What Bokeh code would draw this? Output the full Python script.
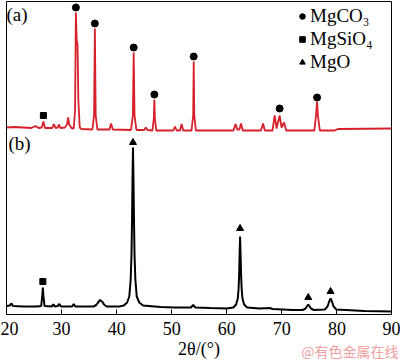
from bokeh.plotting import figure
from bokeh.models import Range1d, FixedTicker, Legend, LegendItem, Label, LinearAxis
from bokeh.embed import file_html
from bokeh.resources import INLINE

# ---- data (2θ in degrees, intensity in arbitrary units) ----
two_theta_a = [20.0, 21.5, 23.0, 24.5, 25.3, 25.8, 26.4, 26.7, 27.0, 28.3, 28.6, 28.9,
               29.3, 29.5, 29.8, 30.6, 31.0, 31.2, 31.4, 31.8, 32.2, 32.45, 32.6, 32.75,
               32.9, 33.05, 33.3, 33.6, 35.6, 35.9, 36.05, 36.2, 36.5, 38.7, 39.0, 39.3,
               42.6, 42.95, 43.1, 43.25, 43.6, 45.0, 45.3, 45.6, 46.5, 46.75, 46.85, 46.95,
               47.2, 50.3, 50.6, 50.9, 51.5, 51.8, 52.1, 53.6, 53.9, 54.0, 54.1, 54.4,
               61.2, 61.6, 61.9, 62.3, 62.6, 62.9, 66.2, 66.6, 66.9, 68.3, 68.7, 69.05,
               69.6, 69.95, 70.4, 70.8, 75.9, 76.2, 76.4, 76.55, 76.9, 79.6, 80.2, 90.0]
intensity_a = [187, 187.5, 187, 186.5, 188.5, 186.5, 187, 193, 186.5, 186.5, 190.5, 186.5,
               187, 190, 186.5, 187, 190, 197, 190, 186.5, 186, 204, 302, 274,
               270, 214, 187, 185.5, 185, 199, 286, 199, 185, 185, 191, 185,
               184.5, 199, 262, 199, 184.5, 184.5, 187, 184.5, 184, 196, 215, 196,
               184, 184, 188, 184, 184, 190.5, 184, 184, 199, 253, 199, 184,
               184, 190.5, 185, 185, 191, 184, 184, 191, 184, 184, 199, 186,
               199, 187, 192, 184, 184, 199, 213, 199, 184, 184, 185.5, 186]

two_theta_b = [20.0, 20.6, 20.9, 21.2, 23.0, 25.5, 26.3, 26.5, 26.6, 26.7, 26.9, 28.2,
               28.5, 28.8, 29.3, 29.6, 29.9, 31.9, 32.2, 32.5, 35.8, 36.3, 36.7, 37.0,
               37.2, 37.45, 37.7, 38.2, 40.5, 41.3, 41.9, 42.3, 42.55, 42.7, 42.8, 42.88,
               42.97, 43.06, 43.15, 43.25, 43.4, 43.65, 44.1, 44.8, 48.0, 50.5, 53.5, 53.9,
               54.3, 57.0, 60.0, 61.2, 61.7, 62.0, 62.15, 62.25, 62.33, 62.42, 62.51, 62.6,
               62.7, 62.85, 63.15, 63.7, 66.0, 67.8, 68.3, 72.0, 73.8, 74.3, 74.6, 74.8,
               75.0, 75.3, 75.8, 77.8, 78.3, 78.6, 78.85, 79.1, 79.4, 79.9, 85.0, 90.0]
intensity_b = [8.5, 9, 11, 8.5, 8, 8, 8.5, 19, 27, 19, 8.5, 8,
               10, 8, 8.5, 10.5, 8, 8, 10.5, 8, 8, 9.5, 12.5, 14.5,
               13.5, 12.5, 10, 8, 8, 9, 12, 18, 35, 60, 95, 135,
               167, 135, 95, 60, 35, 18, 12, 9, 7.5, 7, 7, 9.5,
               7, 6.5, 6, 7, 10, 16, 26, 40, 60, 78, 60, 40,
               26, 16, 10, 7, 6, 6.5, 5.5, 4.5, 4.5, 6, 8.5, 10,
               8.5, 6, 4.5, 5, 8, 13, 16, 13, 8, 5, 3.5, 3]

mgco3_x = [32.6, 36.05, 43.1, 46.85, 54.0, 69.6, 76.4]
mgco3_y = [307, 291, 267, 220, 258, 206, 217]
mgsio4_x = [26.7, 26.6]
mgsio4_y = [199, 33]
mgo_x = [42.97, 62.42, 74.8, 78.85]
mgo_y = [172, 86, 17, 23]

x_ticks = [20, 30, 40, 50, 60, 70, 80, 90]
x_limits = (20, 90)
y_limits = (0, 313)
phase_labels = ["MgCO\u2083", "MgSiO\u2084", "MgO"]
panel_labels = ["(a)", "(b)"]
x_title = "2\u03b8/(\u00b0)"
watermark = "@有色金属在线"

SERIF = "Liberation Serif"

# the frame fills the whole canvas; the box and the 2θ axis are fixed-location axes
p = figure(width=400, height=362,
           x_range=Range1d(18.91, 91.55), y_range=Range1d(-48, 314),
           output_backend="svg", toolbar_location=None,
           x_axis_location=None, y_axis_location=None,
           min_border_left=0, min_border_right=0, min_border_top=0, min_border_bottom=0)
p.xgrid.visible = False
p.ygrid.visible = False
p.outline_line_color = None
p.background_fill_color = "white"
p.border_fill_color = "white"

p.line(two_theta_a, intensity_a, line_color="#d7202a", line_width=1.8)
p.line(two_theta_b, intensity_b, line_color="black", line_width=2)

r_c = p.scatter(mgco3_x, mgco3_y, marker="circle", size=7, color="black")
r_s = p.scatter(mgsio4_x, mgsio4_y, marker="square", size=6, color="black")
r_t = p.scatter(mgo_x, mgo_y, marker="triangle", size=7, color="black")

xa = LinearAxis(fixed_location=y_limits[0], bounds=x_limits, ticker=FixedTicker(ticks=x_ticks))
xa.major_tick_in = 5
xa.major_tick_out = 0
xa.minor_tick_line_color = None
xa.axis_line_color = "black"
xa.major_tick_line_color = "black"
xa.major_label_text_font = SERIF
xa.major_label_text_font_size = "18px"
xa.major_label_text_color = "black"
xa.major_label_standoff = 7
xa.axis_label = x_title
xa.axis_label_text_font = SERIF
xa.axis_label_text_font_size = "18px"
xa.axis_label_text_font_style = "normal"
xa.axis_label_text_color = "black"
xa.axis_label_standoff = 1
p.add_layout(xa, "below")


def border_axis(loc, bounds):
    return LinearAxis(fixed_location=loc, bounds=bounds, ticker=FixedTicker(ticks=[]),
                      major_tick_line_color=None, minor_tick_line_color=None,
                      major_label_text_color=None, axis_line_color="black",
                      axis_line_width=1)


p.add_layout(border_axis(y_limits[1], x_limits), "above")
p.add_layout(border_axis(x_limits[0], y_limits), "left")
p.add_layout(border_axis(x_limits[1], y_limits), "right")

legend = Legend(items=[LegendItem(label=phase_labels[0], renderers=[r_c]),
                       LegendItem(label=phase_labels[1], renderers=[r_s]),
                       LegendItem(label=phase_labels[2], renderers=[r_t])],
                location=(295, 289), border_line_color=None, background_fill_alpha=0,
                label_text_font=SERIF, label_text_font_size="19px", label_text_color="black",
                glyph_width=14, glyph_height=20, label_standoff=1, spacing=1,
                padding=0, margin=0)
p.add_layout(legend)

p.add_layout(Label(x=6, y=359, x_units="screen", y_units="screen", text=panel_labels[0],
                   text_align="left", text_baseline="top", text_font=SERIF,
                   text_font_size="19px", text_color="black"))
p.add_layout(Label(x=8, y=230, x_units="screen", y_units="screen", text=panel_labels[1],
                   text_align="left", text_baseline="top", text_font=SERIF,
                   text_font_size="19px", text_color="black"))
p.add_layout(Label(x=398, y=12, x_units="screen", y_units="screen", text=watermark,
                   text_align="right", text_baseline="middle", text_font="Noto Sans CJK SC",
                   text_font_size="14px", text_color="#f0a0a0"))

open("out.html", "w").write(file_html(p, INLINE))
